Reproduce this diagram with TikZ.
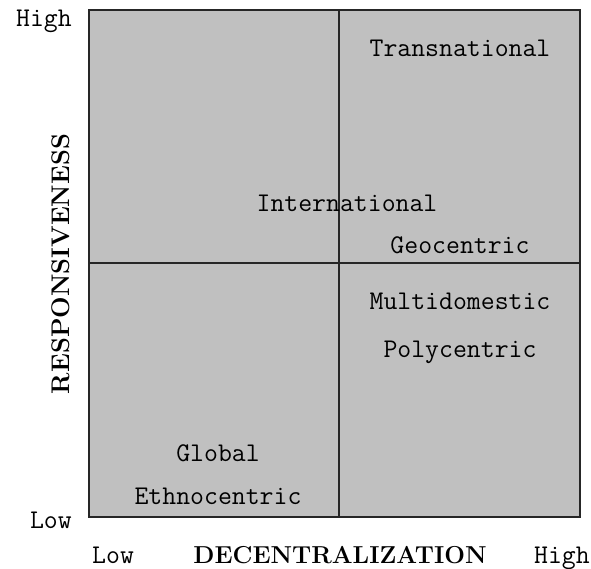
\documentclass[tikz,border=0pt]{standalone}
\usepackage{fontspec}
\usepackage{xcolor}
\usepackage{tikz}
\usetikzlibrary{positioning}

\definecolor{panel}{HTML}{C0C0C0}
\definecolor{rule}{HTML}{262626}

\tikzset{
    lbl/.style={font=\ttfamily\fontsize{27}{30}\selectfont, inner sep=0pt,
        text height=17pt, text depth=0pt},
    axis/.style={font=\bfseries\fontsize{24.5}{28}\selectfont, inner sep=0pt,
        text height=16pt, text depth=0pt},
    grid/.style={draw=rule, line width=1.6pt},
}

\begin{document}
\begin{tikzpicture}[x=1pt, y=-1pt, node distance=48pt]
        \useasboundingbox (0,0) rectangle (591,569);

        % the four quadrants
        \fill[panel] (89,10) rectangle (580,517);
        \draw[grid] (89,10) rectangle (580,517);
        \draw[grid] (339,10) -- (339,517);
        \draw[grid] (89,263) -- (580,263);

        % quadrant labels
        \node (trans) [lbl] at (460,48) {Transnational};
        \node (inter) [lbl] at (347,203.5) {International};
        \node (geo) [lbl] at (460,245.5) {Geocentric};
        \node (multi) [lbl, below of=geo, node distance=55pt] {Multidomestic};
        \node (poly) [lbl, below of=multi] {Polycentric};
        \node (global) [lbl] at (218,452.5) {Global};
        \node (ethno) [lbl, below of=global, node distance=43pt] {Ethnocentric};

        % axes
        \node (yhigh) [lbl, anchor=east] at (72,18.5) {High};
        \node (ylow) [lbl, anchor=east] at (72,519.5) {Low};
        \node (xlow) [lbl, anchor=west] at (92,554.5) {Low};
        \node (xhigh) [lbl, anchor=east] at (590,554.5) {High};
        \node (xname) [axis] at (340,555) {DECENTRALIZATION};
        \node (yname) [axis, rotate=90, font=\bfseries\fontsize{25.5}{28}\selectfont] at (61,264) {RESPONSIVENESS};

    \end{tikzpicture}
\end{document}
